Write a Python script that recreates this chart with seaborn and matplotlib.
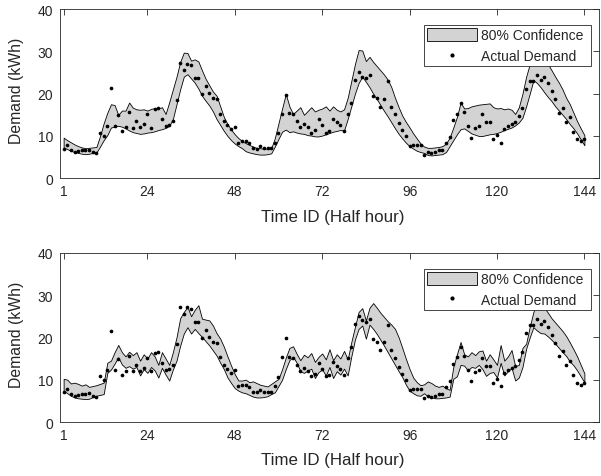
import numpy as np
import pandas as pd
import matplotlib
matplotlib.use("Agg")
import matplotlib.pyplot as plt
import seaborn as sns
from matplotlib.patches import Patch
from matplotlib.lines import Line2D

sns.set_style("white")
plt.rcParams['font.family'] = ['Liberation Sans', 'DejaVu Sans']

# half-hour index, 3 days
time_id = np.arange(1, 145)

# actual demand (kWh), same in both panels
actual = [7.0, 7.8, 6.7, 6.2, 6.4, 6.7, 6.7, 6.8, 6.2, 5.9,
          10.8, 10.0, 12.3, 21.4, 12.3, 14.9, 11.2, 12.1, 15.7, 12.0,
          13.5, 12.1, 12.8, 15.2, 12.0, 16.3, 16.5, 13.9, 12.3, 12.5,
          13.5, 18.4, 27.2, 25.5, 27.1, 26.7, 23.6, 23.6, 19.9, 21.8,
          20.1, 19.0, 18.7, 15.3, 13.5, 12.5, 11.6, 12.2, 8.4, 8.8,
          8.7, 8.3, 7.1, 7.0, 7.6, 7.1, 7.1, 7.1, 8.4, 10.6,
          15.3, 19.8, 15.4, 15.1, 13.5, 12.1, 12.8, 12.1, 10.8, 11.4,
          13.9, 12.5, 10.8, 11.1, 14.1, 13.3, 12.5, 11.2, 15.1, 17.7,
          23.2, 25.0, 24.0, 23.7, 24.4, 19.5, 18.9, 16.9, 18.8, 22.9,
          16.9, 15.1, 13.0, 11.3, 10.0, 7.6, 7.9, 7.9, 7.9, 5.6,
          6.1, 5.9, 6.1, 6.7, 6.7, 8.3, 9.7, 13.8, 15.3, 17.7,
          15.7, 12.4, 9.6, 11.8, 12.4, 15.1, 13.2, 13.2, 9.2, 10.2,
          8.4, 11.6, 12.4, 12.8, 13.3, 14.7, 16.5, 21.0, 23.0, 23.0,
          24.3, 23.2, 23.9, 22.5, 20.6, 18.7, 15.5, 16.7, 13.4, 14.5,
          11.0, 9.2, 8.8, 9.2]

# 80% interval, top panel
upper_top = [9.6, 9.0, 8.5, 8.0, 7.6, 7.3, 7.1, 7.2, 7.3, 7.4,
             10.0, 13.0, 15.5, 17.5, 17.3, 15.0, 16.0, 16.0, 17.9, 16.7,
             16.3, 16.2, 16.3, 16.0, 16.4, 16.6, 16.5, 16.8, 15.2, 18.0,
             21.0, 24.0, 27.5, 29.7, 29.6, 27.8, 28.1, 27.6, 25.5, 23.5,
             22.0, 20.5, 19.5, 17.0, 14.5, 12.8, 11.5, 10.4, 9.5, 8.8,
             8.3, 7.9, 7.5, 7.2, 7.1, 7.0, 7.0, 7.1, 9.5, 13.0,
             16.5, 19.9, 17.0, 15.2, 16.0, 16.8, 15.0, 15.9, 16.8, 15.8,
             16.2, 16.5, 17.0, 16.0, 17.0, 16.2, 15.8, 16.3, 19.0, 23.0,
             27.0, 30.3, 30.2, 27.7, 28.7, 27.5, 26.5, 25.5, 24.5, 23.3,
             21.5, 19.0, 16.8, 14.8, 13.3, 12.0, 10.6, 9.4, 8.2, 7.5,
             7.2, 7.2, 7.3, 7.4, 7.6, 8.2, 9.6, 12.0, 14.5, 17.9,
             16.5, 16.6, 17.0, 17.2, 17.4, 17.5, 17.6, 17.7, 16.8, 16.5,
             16.6, 16.3, 16.5, 16.2, 15.2, 16.8, 20.0, 24.0, 27.0, 29.5,
             31.0, 30.5, 29.0, 27.0, 25.5, 24.0, 22.6, 21.0, 19.0, 17.5,
             15.5, 13.5, 11.8, 10.2]
lower_top = [7.3, 6.9, 6.5, 6.2, 6.0, 5.8, 5.7, 5.8, 6.0, 6.1,
             7.5, 9.0, 10.2, 12.0, 12.2, 12.4, 12.2, 11.8, 11.3, 10.9,
             10.7, 10.5, 10.6, 10.8, 10.9, 11.1, 11.4, 11.6, 11.9, 12.4,
             14.0, 17.5, 21.0, 24.0, 24.6, 23.6, 22.6, 21.2, 19.5, 18.3,
             17.2, 15.8, 14.0, 12.6, 11.2, 10.0, 9.0, 8.2, 7.6, 7.1,
             6.4, 6.1, 5.9, 5.7, 5.6, 5.6, 5.7, 5.9, 7.5, 9.3,
             11.0, 11.5, 10.9, 11.1, 10.8, 10.6, 10.5, 10.2, 10.1, 9.9,
             9.9, 10.1, 10.4, 10.7, 11.0, 11.2, 11.4, 11.3, 14.0, 17.0,
             20.0, 22.5, 24.0, 22.8, 21.5, 20.0, 18.7, 17.3, 15.9, 14.6,
             13.2, 11.8, 10.5, 9.4, 8.4, 7.6, 7.0, 6.5, 6.2, 6.0,
             5.5, 5.4, 5.5, 5.6, 5.7, 6.2, 7.6, 9.0, 10.4, 11.6,
             11.8, 11.2, 10.6, 10.3, 10.0, 10.0, 10.2, 10.4, 10.5, 10.7,
             11.0, 11.4, 11.7, 12.0, 12.5, 13.2, 14.3, 17.0, 20.0, 23.2,
             22.5, 21.5, 20.3, 19.2, 18.2, 17.0, 16.0, 15.0, 14.0, 12.8,
             11.8, 10.6, 9.2, 7.8]

# 80% interval, bottom panel
upper_bot = [10.2, 10.0, 9.1, 9.3, 9.0, 8.6, 8.9, 8.3, 8.5, 8.7,
             9.0, 9.3, 14.0, 14.5, 16.5, 18.2, 16.5, 15.5, 16.6, 15.8,
             16.5, 14.5, 16.0, 15.0, 16.5, 15.5, 13.5, 16.5, 15.0, 13.5,
             16.5, 20.0, 24.5, 26.0, 27.2, 25.0, 26.5, 27.6, 24.4, 24.2,
             24.0, 22.8, 21.0, 19.7, 17.8, 15.5, 13.3, 11.3, 9.8, 9.8,
             10.0, 9.4, 9.6, 9.2, 8.8, 8.6, 8.4, 9.0, 9.6, 10.2,
             12.5, 15.2, 17.5, 17.9, 16.1, 14.6, 15.9, 15.3, 16.3, 14.2,
             15.4, 16.2, 14.8, 17.2, 14.6, 16.0, 15.0, 16.8, 14.8, 18.9,
             22.5, 26.0, 26.9, 24.0, 27.0, 28.1, 27.0, 25.8, 24.8, 23.8,
             23.0, 22.0, 20.0, 17.5, 14.9, 12.5, 10.5, 9.4, 8.7, 8.9,
             9.6, 9.2, 8.6, 8.3, 8.6, 8.0, 7.6, 13.0, 16.0, 18.9,
             16.0, 15.5, 16.5, 15.8, 16.7, 16.9, 14.5, 16.0, 14.8, 13.5,
             18.2, 14.5, 15.5, 17.0, 13.2, 13.5, 17.5, 18.5, 22.5, 26.0,
             28.5, 28.0, 27.0, 25.8, 24.5, 23.5, 22.5, 21.5, 20.3, 18.8,
             17.2, 15.5, 13.5, 11.5]
lower_bot = [7.4, 6.8, 6.2, 5.8, 5.6, 5.5, 5.4, 5.5, 5.9, 6.2,
             6.4, 6.6, 11.6, 12.4, 13.8, 15.3, 13.6, 12.8, 13.2, 12.6,
             13.0, 11.0, 12.5, 11.6, 13.0, 12.2, 10.5, 12.8, 11.2, 9.8,
             12.4, 14.5, 18.0, 20.9, 22.4, 20.9, 22.0, 21.0, 20.1, 19.1,
             18.1, 16.9, 15.7, 14.0, 12.5, 10.5, 9.2, 8.0, 7.4, 7.0,
             6.8, 6.4, 6.0, 5.8, 5.8, 5.9, 6.1, 6.6, 7.0, 8.5,
             10.0, 12.5, 14.6, 15.4, 14.0, 12.0, 11.6, 12.2, 12.6, 10.4,
             11.8, 12.4, 11.0, 13.0, 10.4, 12.0, 11.2, 12.6, 11.0, 15.5,
             19.5, 22.0, 22.8, 19.7, 23.0, 22.0, 20.8, 19.4, 18.0, 16.5,
             15.0, 13.5, 12.0, 10.6, 8.8, 7.4, 6.8, 6.3, 6.2, 6.8,
             6.0, 5.8, 5.6, 5.6, 5.7, 5.8, 6.0, 10.2, 10.8, 13.5,
             13.3, 12.2, 13.0, 12.8, 13.5, 12.5, 10.9, 11.6, 11.8, 10.5,
             14.0, 11.0, 12.0, 12.8, 9.8, 10.5, 13.0, 17.3, 20.0, 22.4,
             21.6, 21.0, 20.9, 20.2, 19.4, 18.5, 17.5, 16.5, 15.6, 14.3,
             13.4, 12.2, 10.8, 9.4]

xtick_vals = [1, 24, 48, 72, 96, 120, 144]
ytick_vals = [0, 10, 20, 30, 40]
legend_labels = ['80% Confidence ', 'Actual Demand ']

band_col = '#d3d3d3'
axis_col = '#262626'

fig = plt.figure(figsize=(6.01, 4.77), dpi=100)
ax_top = fig.add_axes([0.0998, 0.6241, 0.8968, 0.3549])
ax_bot = fig.add_axes([0.0998, 0.1132, 0.8968, 0.3549])


def draw_panel(ax, lower, upper):
    df = pd.DataFrame({'Time': time_id, 'Actual': actual,
                       'Lower': lower, 'Upper': upper})
    ax.fill_between(df['Time'], df['Lower'], df['Upper'], facecolor=band_col,
                    edgecolor='k', linewidth=0.6, zorder=1)
    sns.scatterplot(data=df, x='Time', y='Actual', color='k', s=7,
                    linewidth=0, ax=ax, zorder=3, legend=False)

    ax.set_xlim(0, 148)
    ax.set_ylim(0, 40)
    ax.set_xticks(xtick_vals)
    ax.set_yticks(ytick_vals)
    ax.tick_params(direction='in', length=4, width=0.6, top=True, right=True,
                   colors=axis_col, labelsize=10, labelcolor=axis_col)
    ax.tick_params(axis='x', pad=4)
    ax.tick_params(axis='y', pad=5)
    for sp in ax.spines.values():
        sp.set_visible(True)
        sp.set_linewidth(0.6)
        sp.set_color(axis_col)

    ax.set_xlabel('Time ID (Half hour)', fontsize=12.2, color=axis_col, va='top')
    ax.set_ylabel('Demand (kWh)', fontsize=11.3, color=axis_col)
    ax.xaxis.set_label_coords(0.506, -0.18)
    ax.yaxis.set_label_coords(-0.066, 0.52)

    handles = [Patch(facecolor=band_col, edgecolor='k', linewidth=0.6),
               Line2D([], [], marker='.', ls='none', color='k', markersize=4)]
    leg = ax.legend(handles, legend_labels,
                    loc='upper right', bbox_to_anchor=(0.9846, 0.9055),
                    borderaxespad=0, fontsize=10, frameon=True, fancybox=False,
                    edgecolor=axis_col, framealpha=1, handlelength=3.6,
                    handleheight=1.05, handletextpad=0.3, borderpad=0.22,
                    labelspacing=0.5)
    leg.get_frame().set_linewidth(0.6)


draw_panel(ax_top, lower_top, upper_top)
draw_panel(ax_bot, lower_bot, upper_bot)

fig.savefig('out.png', dpi=100)
plt.close()
